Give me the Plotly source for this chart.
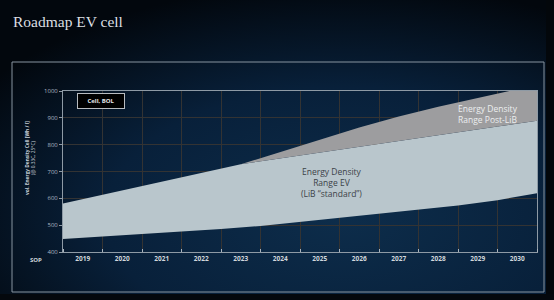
import base64
import plotly.graph_objects as go

# ---------------- data ----------------
years = [2019, 2020, 2021, 2022, 2023, 2024, 2025, 2026, 2027, 2028, 2029, 2030]
year_bounds = [2018.5, 2019.5, 2020.5, 2021.5, 2022.5, 2023.5, 2024.5, 2025.5,
               2026.5, 2027.5, 2028.5, 2029.5, 2030.5]

# lower boundary of the EV range (Wh/l)
lower_x = year_bounds
lower_y = [448, 457, 466, 476, 486, 497, 512, 526, 541, 557, 573, 593, 619]

# upper boundary of LiB "standard"
std_x = [2018.5, 2019.5, 2020.5, 2021.5, 2022.5, 2023.0, 2024.5, 2025.5,
         2026.5, 2027.5, 2028.5, 2029.5, 2030.5]
std_y = [581, 614, 647, 680, 713, 727, 760, 782, 804, 826, 847, 868, 889]

# upper boundary of Post-LiB
post_x = [2023.0, 2024.0, 2025.0, 2026.0, 2027.0, 2028.0, 2029.0, 2029.8, 2030.5]
post_y = [727, 773, 819, 864, 905, 941, 974, 1000, 1000]

y_ticks = [400, 500, 600, 700, 800, 900, 1000]

# ---------------- layout geometry ----------------
W, H = 554, 300
ML, MR, MT, MB = 63, 17, 91, 48
PW, PH = W - ML - MR, H - MT - MB


def px(xpix):
    return (xpix - ML) / PW


def py(ypix):
    return (H - MB - ypix) / PH


svg = f"""<svg xmlns='http://www.w3.org/2000/svg' width='{W}' height='{H}'>
<defs><radialGradient id='g' cx='0.62' cy='0.72' r='0.78'>
<stop offset='0' stop-color='#0d2d4b'/><stop offset='0.55' stop-color='#08203a'/>
<stop offset='1' stop-color='#02070d'/></radialGradient></defs>
<rect width='{W}' height='{H}' fill='url(#g)'/></svg>"""
bg_src = "data:image/svg+xml;base64," + base64.b64encode(svg.encode()).decode()

LIGHT = "#b9c6cc"
GRAY = "#9d9d9f"

fig = go.Figure()
fig.add_trace(go.Scatter(x=lower_x, y=lower_y, mode="lines",
                         line=dict(width=0, color=LIGHT), hoverinfo="skip",
                         showlegend=False))
fig.add_trace(go.Scatter(x=std_x, y=std_y, mode="lines", fill="tonexty",
                         fillcolor=LIGHT, line=dict(width=0, color=LIGHT),
                         hoverinfo="skip", showlegend=False))
fig.add_trace(go.Scatter(x=post_x, y=post_y, mode="lines", fill="tonexty",
                         fillcolor=GRAY, line=dict(width=0, color=GRAY),
                         hoverinfo="skip", showlegend=False))

fig.update_layout(
    width=W, height=H,
    margin=dict(l=ML, r=MR, t=MT, b=MB),
    paper_bgcolor="#061426",
    plot_bgcolor="#000000",
    font=dict(family="Open Sans, sans-serif", color="#c8d0d8"),
    xaxis=dict(
        range=[year_bounds[0], year_bounds[-1]],
        tickmode="array", tickvals=years,
        ticktext=[f"<b>{y}</b>" for y in years],
        tickfont=dict(size=6.5, color="#d0d6dc", family="Open Sans"),
        showgrid=False, zeroline=False,
        showline=True, linecolor="#8e9aa5", linewidth=1, mirror=True,
        ticks="",
        minor=dict(tickmode="array", tickvals=year_bounds, showgrid=True,
                   gridcolor="#333333", gridwidth=1, ticks="inside",
                   ticklen=3, tickcolor="#aab4bd"),
        fixedrange=True,
    ),
    yaxis=dict(
        range=[400, 1000],
        tickmode="array", tickvals=y_ticks,
        tickfont=dict(size=6, color="#aeb8c2"),
        showgrid=True, gridcolor="#333333", gridwidth=1, zeroline=False,
        showline=True, linecolor="#8e9aa5", linewidth=1, mirror=True,
        ticks="outside", ticklen=3, tickcolor="#8e9aa5",
        fixedrange=True,
    ),
    images=[dict(source=bg_src, xref="paper", yref="paper",
                 x=px(0), y=py(0), sizex=W / PW, sizey=H / PH,
                 xanchor="left", yanchor="top", sizing="stretch",
                 layer="below")],
    shapes=[
        # panel frame
        dict(type="rect", xref="paper", yref="paper",
             x0=px(12), x1=px(544), y0=py(292), y1=py(62),
             line=dict(color="#8794a0", width=1), fillcolor="rgba(0,0,0,0)",
             layer="below"),
        # dark strips on right and bottom
        dict(type="rect", xref="paper", yref="paper",
             x0=px(546), x1=px(W), y0=py(H), y1=py(0),
             line=dict(width=0), fillcolor="#03070b", layer="below"),
        dict(type="rect", xref="paper", yref="paper",
             x0=px(0), x1=px(W), y0=py(H), y1=py(294),
             line=dict(width=0), fillcolor="#04080d", layer="below"),
    ],
    annotations=[
        dict(text="Roadmap EV cell", xref="paper", yref="paper",
             x=px(11), y=py(21), xanchor="left", yanchor="middle",
             showarrow=False,
             font=dict(family="Liberation Serif, serif", size=15.5, color="#dcdfe3")),
        dict(text="<b>vol. Energy Density Cell [Wh / l]</b><br>(@ 0.33C, 25°C)",
             xref="paper", yref="paper", x=px(30), y=py(158),
             xanchor="center", yanchor="middle", textangle=-90,
             showarrow=False, font=dict(size=4.8, color="#c8d0d8")),
        dict(text="<b>SOP</b>", xref="paper", yref="paper",
             x=px(36), y=py(260), xanchor="center", yanchor="middle",
             showarrow=False, font=dict(size=6, color="#d0d6dc")),
        dict(text="<b>Cell, BOL</b>", xref="paper", yref="paper",
             x=px(101), y=py(101), xanchor="center", yanchor="middle",
             showarrow=False, bgcolor="#000000", bordercolor="#b8bcc0",
             borderwidth=1, borderpad=3, width=40,
             font=dict(size=6, color="#e6e8ea")),
        dict(text="Energy Density<br>Range EV<br>(LiB “standard”)",
             x=2025.31, y=659, xref="x", yref="y",
             xanchor="center", yanchor="middle", showarrow=False,
             font=dict(size=8.5, color="#3c4248")),
        dict(text="Energy Density<br>Range Post-LiB",
             x=2029.26, y=915, xref="x", yref="y",
             xanchor="center", yanchor="middle", showarrow=False,
             font=dict(size=8.5, color="#eceeef")),
    ],
)

fig.write_html("out.html")
